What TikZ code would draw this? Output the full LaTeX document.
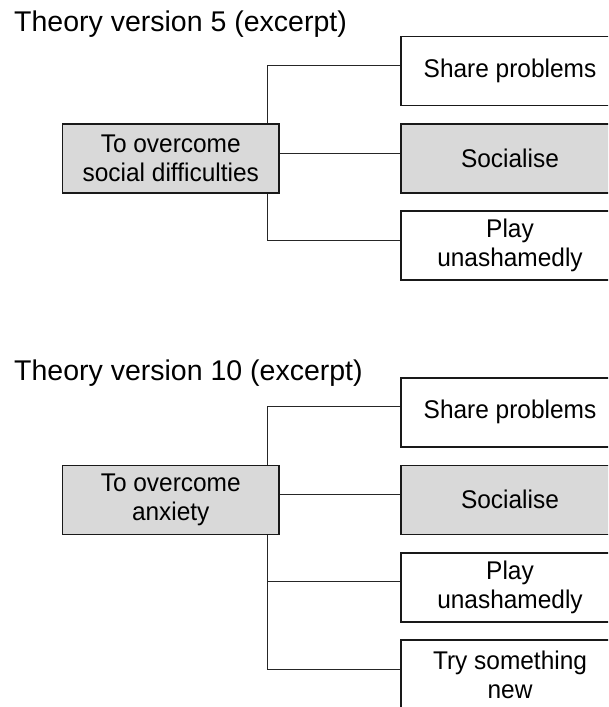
\documentclass[tikz,border=0pt]{standalone}
\usepackage{fontspec}
\setmainfont{Liberation Sans}
\newfontfamily\boxfont{Liberation Sans}[FakeStretch=0.955]
\begin{document}
\begin{tikzpicture}[x=1pt,y=-1pt,
  boxtext/.style={font=\boxfont\fontsize{25.6}{29.4}\selectfont},
  goalbox/.style={boxtext, draw=black!90, line width=1.4pt, fill=black!15,
    minimum width=216.5pt, minimum height=69pt, inner sep=0pt, align=center},
  actbox/.style={boxtext, draw=black!90, line width=1.4pt, fill=white,
    minimum width=218pt, minimum height=69pt, inner sep=0pt, align=center},
  actboxgray/.style={actbox, fill=black!15},
  link/.style={draw=black!85, line width=0.9pt},
  heading/.style={font=\fontsize{28.5}{34}\selectfont, inner sep=0pt, anchor=base west}]
\useasboundingbox (0,0) rectangle (608,707);
\clip (0,0) rectangle (608,707);

% ---- version 5 ----
\node[heading] (t1) at (14,31.5) {Theory version 5 (excerpt)};
\node[goalbox] (g1) at (170.75,158.5) {To overcome\\social difficulties};
\node[actbox] (a1) at (510,71.25) {Share problems};
\node[actboxgray] (b1) at (510,158.5) {Socialise};
\node[actbox] (c1) at (510,245.5) {Play\\unashamedly};

\draw[link] ([xshift=-12pt]g1.north east) |- ([yshift=5.5pt]a1.west);
\draw[link] ([yshift=5.5pt]g1.east) -- ([yshift=5.5pt]b1.west);
\draw[link] ([xshift=-12pt]g1.south east) |- ([yshift=5.5pt]c1.west);

% ---- version 10 ----
\node[heading] (t2) at (14,380.5) {Theory version 10 (excerpt)};
\node[goalbox] (g2) at (170.75,499.8) {To overcome\\anxiety};
\node[actbox] (a2) at (510,412.3) {Share problems};
\node[actboxgray] (b2) at (510,499.8) {Socialise};
\node[actbox] (c2) at (510,587.3) {Play\\unashamedly};
\node[actbox] (d2) at (510,674.6) {Try something\\new};

\draw[link] ([xshift=-12pt]g2.north east) |- ([yshift=5.5pt]a2.west);
\draw[link] ([yshift=5.5pt]g2.east) -- ([yshift=5.5pt]b2.west);
\draw[link] ([xshift=-12pt]g2.south east) |- ([yshift=5.5pt]c2.west);
\draw[link] ([xshift=-12pt]g2.south east) |- ([yshift=5.5pt]d2.west);
\end{tikzpicture}
\end{document}
